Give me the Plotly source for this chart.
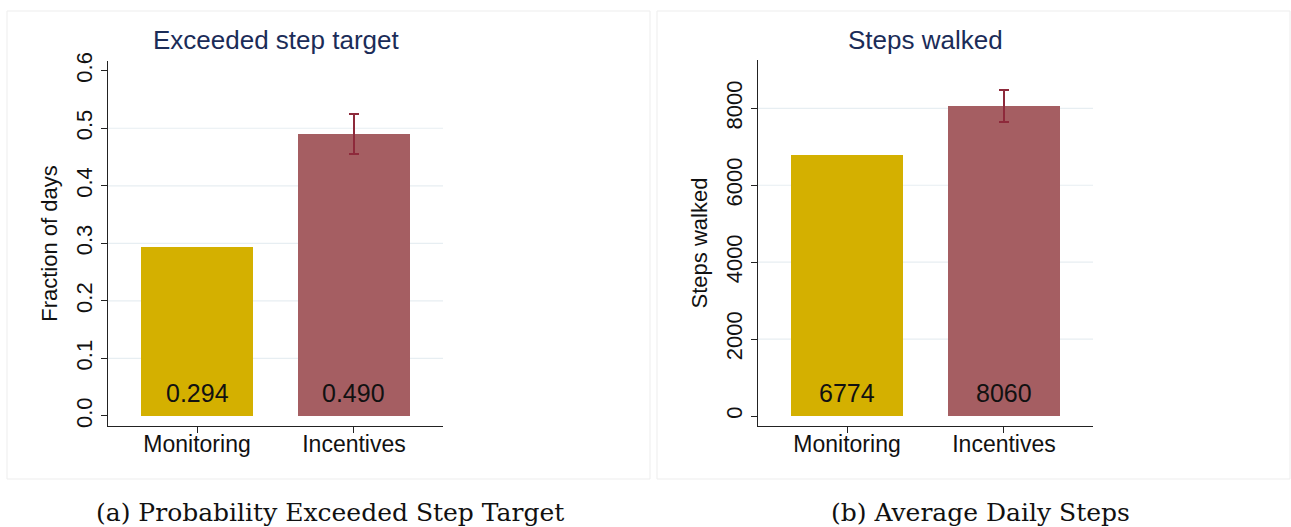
import plotly.graph_objects as go

W, H = 1291, 527

# Data
groups = ["Monitoring", "Incentives"]
frac_days = [0.294, 0.490]
frac_err = [None, 0.035]
steps = [6774, 8060]
steps_err = [None, 415]

frac_ticks = [0.0, 0.1, 0.2, 0.3, 0.4, 0.5, 0.6]
frac_ticktext = ["0.0", "0.1", "0.2", "0.3", "0.4", "0.5", "0.6"]
frac_grid = [0.1, 0.2, 0.3, 0.4, 0.5]
steps_ticks = [0, 2000, 4000, 6000, 8000]
steps_grid = [2000, 4000, 6000, 8000]

bar_colors = ["#d4b000", "#a55e62"]
err_color = "#8e2a3b"
title_color = "#1b2c58"
grid_color = "#e7eef2"


def px_x(p):
    return p / W


def px_y(p):
    return 1 - p / H


fig = go.Figure()

panels = [
    dict(xa="x", ya="y", vals=frac_days, err=frac_err, fmt="{:.3f}",
         x0=108, x1=443, y0=61, y1=426, rng=[-0.0174, 0.6169],
         ticks=frac_ticks, ticktext=frac_ticktext, grid=frac_grid,
         title="Exceeded step target", ytitle="Fraction of days",
         caption="(a) Probability Exceeded Step Target", cap_x=330,
         box=(7, 11, 650, 479)),
    dict(xa="x2", ya="y2", vals=steps, err=steps_err, fmt="{:d}",
         x0=758, x1=1093, y0=60, y1=426, rng=[-260, 9256],
         ticks=steps_ticks, ticktext=[str(t) for t in steps_ticks], grid=steps_grid,
         title="Steps walked", ytitle="Steps walked",
         caption="(b) Average Daily Steps", cap_x=980,
         box=(657, 11, 1290, 479)),
]

xpos = [0, 1]
sans = "Liberation Sans, Arial, sans-serif"

for i, p in enumerate(panels):
    # panel frame
    bx0, by0, bx1, by1 = p["box"]
    fig.add_shape(type="rect", xref="paper", yref="paper",
                  x0=px_x(bx0), x1=px_x(bx1), y0=px_y(by1), y1=px_y(by0),
                  line=dict(color="#ededed", width=1), fillcolor="rgba(0,0,0,0)",
                  layer="below")
    # horizontal grid
    for g in p["grid"]:
        fig.add_shape(type="line", xref=f"{p['xa']} domain", yref=p["ya"],
                      x0=0, x1=1, y0=g, y1=g,
                      line=dict(color=grid_color, width=1.2), layer="below")
    # bars
    for j, (name, v, e) in enumerate(zip(groups, p["vals"], p["err"])):
        fig.add_trace(go.Bar(
            x=[xpos[j]], y=[v], width=0.713, marker=dict(color=bar_colors[j], line=dict(width=0)),
            xaxis=p["xa"], yaxis=p["ya"], showlegend=False, hoverinfo="skip",
            error_y=(dict(type="data", array=[e], visible=True, color=err_color,
                          thickness=2.2, width=5) if e is not None else dict(visible=False)),
        ))
        fig.add_annotation(x=xpos[j], y=0, xref=p["xa"], yref=p["ya"],
                           text=p["fmt"].format(v), showarrow=False,
                           yanchor="bottom", yshift=7,
                           font=dict(family=sans, size=25, color="#111111"))
    # panel title
    fig.add_annotation(x=px_x((p["x0"] + p["x1"]) / 2), y=px_y(40), xref="paper", yref="paper",
                       text=p["title"], showarrow=False, xanchor="center", yanchor="middle",
                       font=dict(family=sans, size=26, color=title_color))
    # caption
    fig.add_annotation(x=px_x(p["cap_x"]), y=px_y(512), xref="paper", yref="paper",
                       text=p["caption"], showarrow=False, xanchor="center", yanchor="middle",
                       font=dict(family="DejaVu Serif, serif", size=25, color="#111111"))

    axis_common = dict(showline=True, linecolor="#222222", linewidth=1.3,
                       ticks="outside", tickcolor="#222222", ticklen=6, tickwidth=1.2,
                       showgrid=False, zeroline=False, fixedrange=True, automargin=False)
    xkey = "xaxis" if i == 0 else "xaxis2"
    ykey = "yaxis" if i == 0 else "yaxis2"
    fig.update_layout(**{
        xkey: dict(axis_common, domain=[px_x(p["x0"]), px_x(p["x1"])],
                   anchor=p["ya"], range=[-0.567, 1.567],
                   tickvals=xpos, ticktext=groups, ticklabelstandoff=-9,
                   tickfont=dict(family=sans, size=23, color="#111111")),
        ykey: dict(axis_common, domain=[px_y(p["y1"]), px_y(p["y0"])],
                   anchor=p["xa"], range=p["rng"],
                   tickvals=p["ticks"], ticktext=p["ticktext"], tickangle=-90,
                   tickfont=dict(family=sans, size=22, color="#111111"),
                   title=dict(text=p["ytitle"], standoff=8,
                              font=dict(family=sans, size=22, color="#111111"))),
    })

fig.update_layout(
    width=W, height=H,
    margin=dict(l=0, r=0, t=0, b=0, autoexpand=False),
    paper_bgcolor="white", plot_bgcolor="white",
    bargap=0, showlegend=False,
)

fig.write_html("out.html", config={"displayModeBar": False})
